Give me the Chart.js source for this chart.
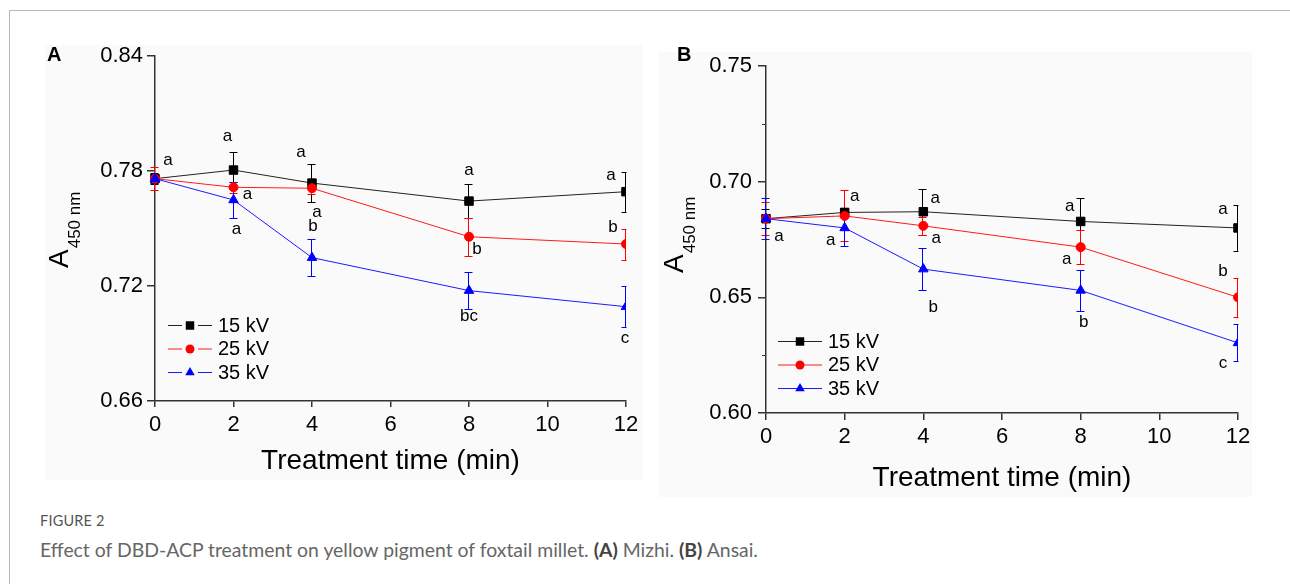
<!DOCTYPE html>
<html>
<head>
<meta charset="utf-8">
<script src="https://cdn.jsdelivr.net/npm/chart.js@4.4.1/dist/chart.umd.min.js"></script>
<style>
    body { margin: 0; background: #fff; width: 1290px; height: 584px; position: relative; overflow: hidden; font-family: 'Liberation Sans', Arial, sans-serif; }
    .frame-top { position: absolute; left: 9px; top: 10px; width: 1281px; height: 1px; background: #b8b8b8; }
    .frame-left { position: absolute; left: 9px; top: 10px; width: 1px; height: 574px; background: #b8b8b8; }
    .panel { position: absolute; background: #fafafa; }
    #panelA { left: 45px; top: 45px; width: 597px; height: 435px; }
    #panelB { left: 658px; top: 52px; width: 594px; height: 445px; }
    .tag { position: absolute; font-weight: bold; font-size: 20px; line-height: 20px; color: #000; }
    .fig-head { position: absolute; left: 40px; top: 512px; font-family: Lato, 'Open Sans', sans-serif; font-size: 14.5px; color: #555; letter-spacing: 0.2px; }
    .fig-text { position: absolute; left: 40px; top: 538px; font-family: Lato, 'Open Sans', sans-serif; font-size: 19.4px; color: #666; white-space: nowrap; }
    .fig-text b { color: #444; }
</style>
</head>
<body>
<div class="frame-top"></div>
<div class="frame-left"></div>
<div class="panel" id="panelA"><canvas id="chartA" width="597" height="435"></canvas></div>
<div class="panel" id="panelB"><canvas id="chartB" width="594" height="445"></canvas></div>
<div class="tag" style="left:47px; top:44px;">A</div>
<div class="tag" style="left:677px; top:44px;">B</div>
<div class="fig-head">FIGURE 2</div>
<div class="fig-text">Effect of DBD-ACP treatment on yellow pigment of foxtail millet. <b>(A)</b> Mizhi. <b>(B)</b> Ansai.</div>

<script>
// treatment times (min) and series
const times = [0, 2, 4, 8, 12];
const seriesLabels = ['15 kV', '25 kV', '35 kV'];
const xTicks = [0, 2, 4, 6, 8, 10, 12];

// (A) Mizhi
const mizhiYTicks = [0.66, 0.72, 0.78, 0.84];
const mizhi15 = [0.776, 0.7805, 0.7737, 0.7643, 0.7692];
const mizhi25 = [0.776, 0.7715, 0.7710, 0.7457, 0.7419];
const mizhi35 = [0.776, 0.7649, 0.7348, 0.7176, 0.7092];
const mizhi15Err = [0.003, 0.0095, 0.010, 0.009, 0.0105];
const mizhi25Err = [0.006, 0.003, 0.003, 0.0098, 0.0081];
const mizhi35Err = [0.0025, 0.0096, 0.0097, 0.0095, 0.0107];
const mizhi15Letters = ['a', 'a', 'a', 'a', 'a'];
const mizhi25Letters = ['', 'a', 'a', 'b', 'b'];
const mizhi35Letters = ['', 'a', 'b', 'bc', 'c'];

// (B) Ansai
const ansaiYTicks = [0.60, 0.65, 0.70, 0.75];
const ansaiMinorTicks = [0.625, 0.675, 0.725];
const ansai15 = [0.684, 0.6867, 0.6870, 0.6828, 0.6800];
const ansai25 = [0.684, 0.6852, 0.6809, 0.6717, 0.6500];
const ansai35 = [0.684, 0.6800, 0.6622, 0.6530, 0.6303];
const ansai15Err = [0.004, 0.002, 0.010, 0.010, 0.010];
const ansai25Err = [0.007, 0.011, 0.004, 0.0075, 0.0083];
const ansai35Err = [0.009, 0.008, 0.009, 0.009, 0.008];
const ansai15Letters = ['', '', 'a', 'a', 'a'];
const ansai25Letters = ['a', 'a', 'a', 'a', 'b'];
const ansai35Letters = ['', 'a', 'b', 'b', 'c'];

const FONT = "'Liberation Sans', Arial, sans-serif";

const seriesStyles = [
    { color: '#000000', line: '#222222', pointStyle: 'rect', radius: 6, order: 3 },
    { color: '#ff0000', line: '#ff1a1a', pointStyle: 'circle', radius: 4.5, order: 2 },
    { color: '#0000ff', line: '#1a1aff', pointStyle: 'triangle', radius: 5.5, order: 1 }
];

// letter label offsets from each point, in px
const mizhiLetterOffsets = [
    [[13, -17], [-6, -33], [-11, -30], [0, -30], [-15, -15]],
    [[0, 0], [14, 8], [5, 25], [8, 14], [-13, -16]],
    [[0, 0], [3, 30], [1, -30], [0, 27], [-1, 33]]
];
const ansaiLetterOffsets = [
    [[0, 0], [0, 0], [12, -12], [-11, -14], [-15, -18]],
    [[13, 19], [10, -19], [13, 13], [-14, 13], [-15, -25]],
    [[0, 0], [-14, 13], [10, 39], [3, 33], [-15, 21]]
];

function drawMarker(ctx, style, x, y) {
    const r = style.radius;
    ctx.fillStyle = style.color;
    ctx.beginPath();
    if (style.pointStyle === 'rect') {
        const s = r * Math.SQRT1_2;
        ctx.rect(x - s, y - s, 2 * s, 2 * s);
    } else if (style.pointStyle === 'circle') {
        ctx.arc(x, y, r, 0, Math.PI * 2);
    } else {
        let a = 0;
        ctx.moveTo(x + Math.sin(a) * r, y - Math.cos(a) * r);
        a += Math.PI * 2 / 3;
        ctx.lineTo(x + Math.sin(a) * r, y - Math.cos(a) * r);
        a += Math.PI * 2 / 3;
        ctx.lineTo(x + Math.sin(a) * r, y - Math.cos(a) * r);
        ctx.closePath();
    }
    ctx.fill();
}

function makePanel(canvasId, cfg) {
    const datasets = cfg.values.map((vals, i) => ({
        label: seriesLabels[i],
        data: vals.map((v, j) => ({ x: times[j], y: v })),
        borderColor: seriesStyles[i].line,
        backgroundColor: seriesStyles[i].color,
        pointBackgroundColor: seriesStyles[i].color,
        pointBorderColor: seriesStyles[i].color,
        pointBorderWidth: 1,
        pointStyle: seriesStyles[i].pointStyle,
        pointRadius: seriesStyles[i].radius,
        borderWidth: 1,
        tension: 0,
        order: seriesStyles[i].order,
        clip: { left: 8, top: 20, right: 0, bottom: 20 }
    }));

    const errorBars = {
        id: 'errorBars',
        beforeDatasetsDraw(chart) {
            const { ctx, chartArea, scales: { x, y } } = chart;
            ctx.save();
            ctx.beginPath();
            ctx.rect(chartArea.left - 8, chartArea.top - 30, chartArea.right - chartArea.left + 8.5, chartArea.bottom - chartArea.top + 60);
            ctx.clip();
            ctx.lineWidth = 1;
            cfg.values.forEach((vals, i) => {
                ctx.strokeStyle = seriesStyles[i].color;
                vals.forEach((v, j) => {
                    const px = Math.round(x.getPixelForValue(times[j])) - 0.5;
                    const top = Math.round(y.getPixelForValue(v + cfg.errors[i][j])) + 0.5;
                    const bot = Math.round(y.getPixelForValue(v - cfg.errors[i][j])) + 0.5;
                    ctx.beginPath();
                    ctx.moveTo(px, top); ctx.lineTo(px, bot);
                    ctx.moveTo(px - 4, top); ctx.lineTo(px + 4, top);
                    ctx.moveTo(px - 4, bot); ctx.lineTo(px + 4, bot);
                    ctx.stroke();
                });
            });
            ctx.restore();
        }
    };

    const extras = {
        id: 'extras',
        afterDraw(chart) {
            const { ctx, chartArea, scales: { x, y } } = chart;
            ctx.save();

            // significance letters
            ctx.fillStyle = '#000';
            ctx.font = '17px ' + FONT;
            ctx.textAlign = 'center';
            ctx.textBaseline = 'middle';
            cfg.letters.forEach((letters, i) => {
                letters.forEach((t, j) => {
                    if (!t) return;
                    const off = cfg.letterOffsets[i][j];
                    ctx.fillText(t, x.getPixelForValue(times[j]) + off[0], y.getPixelForValue(cfg.values[i][j]) + off[1] - 1);
                });
            });

            // minor ticks
            ctx.strokeStyle = '#333';
            ctx.lineWidth = 1;
            (cfg.minorTicks || []).forEach(v => {
                const py = Math.round(y.getPixelForValue(v)) + 0.5;
                ctx.beginPath();
                ctx.moveTo(chartArea.left - 4, py);
                ctx.lineTo(chartArea.left, py);
                ctx.stroke();
            });

            // legend
            const lg = cfg.legend;
            seriesLabels.forEach((label, i) => {
                const ly = lg.y + i * lg.dy;
                const st = seriesStyles[i];
                ctx.strokeStyle = st.line;
                ctx.lineWidth = 1;
                ctx.beginPath();
                if (lg.gap) {
                    ctx.moveTo(lg.x, ly + 0.5); ctx.lineTo(lg.x + 14, ly + 0.5);
                    ctx.moveTo(lg.x + 30, ly + 0.5); ctx.lineTo(lg.x + 44, ly + 0.5);
                } else {
                    ctx.moveTo(lg.x, ly + 0.5); ctx.lineTo(lg.x + 44, ly + 0.5);
                }
                ctx.stroke();
                drawMarker(ctx, st, lg.x + 22, ly + 0.5);
                ctx.fillStyle = '#000';
                ctx.font = '20px ' + FONT;
                ctx.textAlign = 'left';
                ctx.textBaseline = 'middle';
                ctx.fillText(label, lg.x + 50, ly + 1);
            });

            // y title: A with subscript 450 nm
            ctx.translate(cfg.yTitle.x, cfg.yTitle.y);
            ctx.rotate(-Math.PI / 2);
            ctx.fillStyle = '#000';
            ctx.textAlign = 'left';
            ctx.textBaseline = 'alphabetic';
            ctx.font = '28px ' + FONT;
            ctx.fillText('A', 0, 0);
            const w = ctx.measureText('A').width;
            ctx.font = '17px ' + FONT;
            ctx.fillText('450 nm', w + 1, 12);
            ctx.restore();
        }
    };

    return new Chart(document.getElementById(canvasId), {
        type: 'line',
        data: { datasets: datasets },
        options: {
            responsive: false,
            animation: false,
            devicePixelRatio: 1,
            layout: { padding: cfg.padding },
            plugins: { legend: { display: false }, tooltip: { enabled: false } },
            scales: {
                x: {
                    type: 'linear',
                    min: xTicks[0],
                    max: xTicks[xTicks.length - 1],
                    afterBuildTicks: s => { s.ticks = xTicks.map(v => ({ value: v })); },
                    afterFit: s => { s.height = cfg.xHeight; s.paddingLeft = 0; s.paddingRight = 0; },
                    border: { color: '#333', width: 1.5 },
                    grid: { drawOnChartArea: false, drawTicks: true, tickLength: cfg.xTickLen, color: '#333', lineWidth: 1.5 },
                    ticks: { color: '#000', font: { size: 22, family: FONT }, padding: cfg.xPad, maxRotation: 0, autoSkip: false },
                    title: { display: true, text: 'Treatment time (min)', color: '#000', font: { size: 28, family: FONT }, padding: 0 }
                },
                y: {
                    type: 'linear',
                    min: cfg.yTicks[0],
                    max: cfg.yTicks[cfg.yTicks.length - 1],
                    afterBuildTicks: s => { s.ticks = cfg.yTicks.map(v => ({ value: v })); },
                    afterFit: s => { s.width = cfg.yWidth; s.paddingTop = 0; s.paddingBottom = 0; },
                    border: { color: '#333', width: 1.5 },
                    grid: { drawOnChartArea: false, drawTicks: true, tickLength: 8, color: '#333', lineWidth: 1.5 },
                    ticks: { color: '#000', font: { size: 22, family: FONT }, padding: cfg.yPad, autoSkip: false, callback: v => Number(v).toFixed(2) }
                }
            }
        },
        plugins: [errorBars, extras]
    });
}

makePanel('chartA', {
    values: [mizhi15, mizhi25, mizhi35],
    errors: [mizhi15Err, mizhi25Err, mizhi35Err],
    letters: [mizhi15Letters, mizhi25Letters, mizhi35Letters],
    letterOffsets: mizhiLetterOffsets,
    yTicks: mizhiYTicks,
    padding: { top: 11, right: 16, bottom: 2, left: 0 },
    yWidth: 110, xHeight: 77, xTickLen: 6, xPad: 5, yPad: 4,
    legend: { x: 123, y: 280, dy: 23.5, gap: true },
    yTitle: { x: 23, y: 223 }
});

makePanel('chartB', {
    values: [ansai15, ansai25, ansai35],
    errors: [ansai15Err, ansai25Err, ansai35Err],
    letters: [ansai15Letters, ansai25Letters, ansai35Letters],
    letterOffsets: ansaiLetterOffsets,
    yTicks: ansaiYTicks,
    minorTicks: ansaiMinorTicks,
    padding: { top: 14, right: 14, bottom: 2, left: 0 },
    yWidth: 108, xHeight: 82, xTickLen: 7, xPad: 4, yPad: 6,
    legend: { x: 120, y: 289, dy: 23.5, gap: false },
    yTitle: { x: 25, y: 221 }
});
</script>
</body>
</html>
